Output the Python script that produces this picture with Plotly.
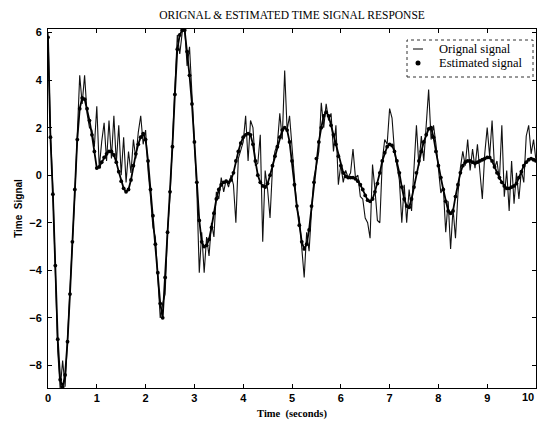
import numpy as np
import plotly.graph_objects as go

# sampling grid (seconds)
time_s = np.round(np.arange(201) * 0.05, 2)

# smooth estimate of the response, one row per second
estimated_signal = [
    5.8, 1.6, -0.8, -3.8, -6.9, -8.6, -8.9, -8.4, -7.0, -5.0, -2.8, -0.6, 1.5, 2.8, 3.25, 3.2, 2.8, 2.3, 1.7, 1.0,
    0.3, 0.35, 0.55, 0.75, 0.9, 1.0, 1.0, 0.85, 0.55, 0.15, -0.25, -0.55, -0.7, -0.6, -0.2, 0.4, 0.9, 1.3, 1.6, 1.75,
    1.5, 0.6, -0.6, -1.7, -2.9, -4.1, -5.4, -6.0, -4.3, -2.4, -0.7, 1.2, 3.4, 5.3, 5.9, 6.1, 6.1, 5.2, 4.2, 3.0,
    1.4, -0.3, -1.9, -2.8, -3.0, -2.95, -2.7, -2.2, -1.6, -1.0, -0.6, -0.4, -0.3, -0.25, -0.3, -0.2, 0.1, 0.6, 1.0, 1.35,
    1.6, 1.7, 1.75, 1.7, 1.3, 0.6, 0.0, -0.3, -0.45, -0.5, -0.35, 0.0, 0.4, 0.8, 1.2, 1.6, 1.9, 2.0, 1.9, 1.4,
    0.6, -0.4, -1.3, -2.1, -2.8, -3.1, -2.9, -2.3, -1.3, -0.3, 0.7, 1.4, 2.0, 2.5, 2.65, 2.5, 2.1, 1.7, 1.3, 0.8,
    0.4, 0.1, -0.05, -0.1, -0.1, -0.1, -0.15, -0.25, -0.4, -0.6, -0.85, -1.05, -1.1, -1.0, -0.7, -0.35, 0.1, 0.6, 0.95, 1.2,
    1.3, 1.25, 1.0, 0.6, 0.1, -0.5, -1.0, -1.3, -1.35, -1.0, -0.5, 0.1, 0.6, 1.0, 1.4, 1.7, 1.95, 2.0, 1.6, 1.0,
    0.4, -0.1, -0.6, -1.1, -1.5, -1.6, -1.5, -0.9, -0.4, 0.1, 0.4, 0.55, 0.6, 0.6, 0.55, 0.5, 0.55, 0.6, 0.65, 0.7,
    0.75, 0.75, 0.6, 0.35, 0.1, -0.1, -0.3, -0.45, -0.55, -0.55, -0.5, -0.45, -0.35, -0.1, 0.15, 0.4, 0.55, 0.65, 0.7, 0.65,
    0.6,
]

# measured (noisy) response on the same grid
original_signal = [
    6.0, 1.8, -0.6, -3.6, -7.4, -9.0, -7.8, -8.9, -6.9, -5.1, -2.6, -0.8, 1.7, 4.2, 3.0, 4.2, 2.6, 2.0, 1.9, 1.2,
    2.9, 0.3, 1.4, 2.2, 0.6, 2.3, 0.7, 2.5, 0.5, 2.1, 0.0, 1.6, -0.3, 1.0, 0.1, 1.5, 0.7, 1.8, 2.5, 1.3,
    1.9, 0.2, -0.9, -2.2, -2.6, -4.6, -6.0, -5.4, -5.0, -2.3, -0.9, 1.4, 3.6, 5.9, 5.1, 6.0, 6.3, 4.6, 5.4, 3.4,
    1.8, -0.6, -4.1, -2.4, -4.1, -2.6, -3.4, -2.0, -2.6, -0.7, -1.0, -0.1, -0.7, -0.2, -0.5, 0.0, -0.4, -2.0, 0.7, 1.1,
    1.4, 2.5, 0.6, 2.3, 2.0, 0.4, 0.5, 1.7, -2.8, 0.2, -0.6, -1.8, 0.3, 1.0, 1.3, 2.6, 1.5, 4.4, 1.9, 2.5,
    1.2, -0.5, -1.4, -1.8, -2.9, -4.3, -2.4, -3.2, -1.5, -0.1, 0.4, 1.0, 3.05, 2.0, 3.0, 2.3, 2.6, 1.0, 2.1, -0.4,
    0.45, -0.3, 0.2, -0.1, 0.1, 1.1, -0.1, 0.0, -0.9, -1.0, -1.8, -2.0, -2.65, 0.45, -0.6, -1.9, -2.0, 0.6, 1.5, 1.3,
    2.8, 2.4, 1.0, 0.3, -0.2, -2.0, -0.4, -2.0, -0.6, -1.5, 0.45, 2.1, 0.4, 1.65, 0.6, 2.25, 3.6, 1.5, 2.1, 1.3,
    0.2, -0.75, -0.5, -2.4, -1.1, -3.1, -1.4, -2.65, -0.8, 0.3, 1.0, 0.4, 1.5, 0.2, 1.1, 0.3, 1.3, 0.1, -1.0, 0.9,
    2.0, 0.8, 2.3, 0.3, 0.6, -0.2, 2.1, -0.9, 0.2, -1.5, 0.6, -1.2, 0.1, -1.0, 0.2, -0.3, 1.65, 2.1, 0.9, 1.5,
    0.6,
]

x_ticks = list(range(0, 11))
# the last label sits at the right edge of the page, so it is placed separately
x_tick_text = [str(v) for v in x_ticks[:-1]] + [""]
y_ticks = [-8, -6, -4, -2, 0, 2, 4, 6]
legend_labels = ["Orignal signal", "Estimated signal"]

ink = "#000000"
fig = go.Figure()
fig.add_trace(go.Scatter(
    x=time_s, y=original_signal, mode="lines",
    line=dict(color="#111111", width=1.1), name=legend_labels[0], showlegend=False,
))
fig.add_trace(go.Scatter(
    x=time_s, y=estimated_signal, mode="lines+markers",
    line=dict(color=ink, width=1.8), marker=dict(size=3.8, color=ink),
    name=legend_labels[1], showlegend=False,
))

tick_font = dict(family="Liberation Sans", size=11, color=ink, weight="bold")
axis_common = dict(
    showline=True, linecolor=ink, linewidth=1, mirror="allticks",
    ticks="inside", ticklen=4, tickcolor=ink, showgrid=False, zeroline=False,
    tickfont=tick_font, automargin=False,
)

fig.update_layout(
    width=537, height=423,
    margin=dict(l=48, r=1, t=29, b=35, autoexpand=False),
    paper_bgcolor="white", plot_bgcolor="white",
    title=dict(
        text="ORIGNAL &amp; ESTIMATED TIME SIGNAL RESPONSE",
        font=dict(family="Liberation Serif", size=11.5, color=ink),
        x=0.5, xref="paper", xanchor="center", y=1 - 15 / 423, yanchor="middle",
    ),
    xaxis=dict(
        range=[0, 10], tickvals=x_ticks, ticktext=x_tick_text, ticklabelstandoff=0,
        title=dict(text="Time  (seconds)", standoff=6,
                   font=dict(family="Liberation Serif", size=10.5, color=ink, weight="bold")),
        **axis_common,
    ),
    yaxis=dict(
        range=[-8.95, 6.15], tickvals=y_ticks, ticklabelstandoff=3,
        title=dict(text="Time  Signal", standoff=4,
                   font=dict(family="Liberation Sans", size=10, color=ink, weight="bold")),
        **axis_common,
    ),
)

fig.add_annotation(text=str(x_ticks[-1]), xref="x", yref="paper",
                   x=x_ticks[-1], y=0, xanchor="right", yanchor="top", yshift=-1,
                   showarrow=False, font=tick_font)

# legend box drawn by hand (dotted frame, short line sample, dot marker)
def px_x(p):
    return (p - 48) / 488


def px_y(p):
    return (388 - p) / 359


fig.add_shape(type="rect", xref="paper", yref="paper",
              x0=px_x(407), x1=px_x(533), y0=px_y(77), y1=px_y(40),
              line=dict(color="#333333", width=1, dash="dot"), fillcolor="white", layer="above")
fig.add_shape(type="line", xref="paper", yref="paper",
              x0=px_x(413), x1=px_x(423), y0=px_y(49), y1=px_y(49),
              line=dict(color=ink, width=1), layer="above")
fig.add_shape(type="circle", xref="paper", yref="paper",
              xsizemode="pixel", ysizemode="pixel",
              xanchor=px_x(418), yanchor=px_y(63), x0=-2.5, x1=2.5, y0=-2.5, y1=2.5,
              fillcolor=ink, line=dict(color=ink, width=0), layer="above")
for label, ypix in zip(legend_labels, [49, 63]):
    fig.add_annotation(text=label, xref="paper", yref="paper",
                       x=px_x(437), y=px_y(ypix), xanchor="left", yanchor="middle",
                       showarrow=False,
                       font=dict(family="Liberation Serif", size=12.5, color=ink))

fig.write_html("out.html")
